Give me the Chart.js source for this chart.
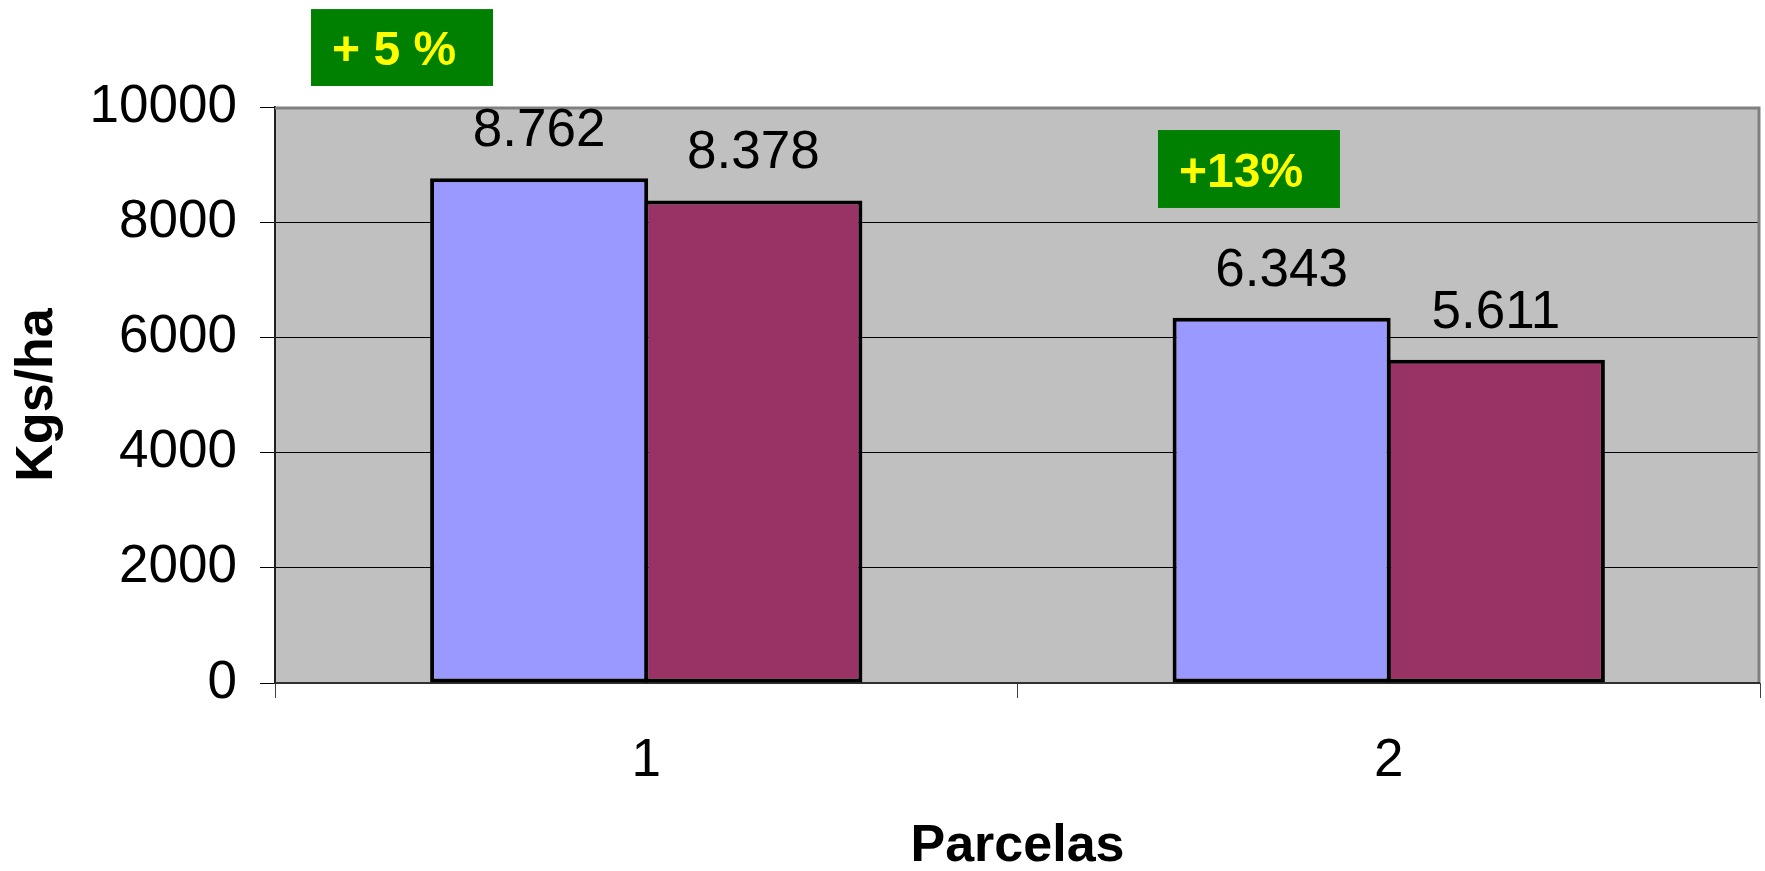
<!DOCTYPE html>
<html>
<head>
<meta charset="utf-8">
<script src="https://cdn.jsdelivr.net/npm/chart.js@4/dist/chart.umd.min.js"></script>
<style>
  html, body { margin: 0; padding: 0; background: #ffffff; }
  canvas { display: block; }
</style>
</head>
<body>
<canvas id="c" width="1765" height="871"></canvas>
<script>
// ---- data ----
const categories = ["1", "2"];
const seriesA = [8762, 6343];
const seriesB = [8378, 5611];
const yTicks = [0, 2000, 4000, 6000, 8000, 10000];
const xTitle = "Parcelas";
const yTitle = "Kgs/ha";
// annotation boxes (text, x-range in category index units, y-range in value units)
const noteTexts = ["+ 5 %", "+13%"];
const noteX0 = [-0.4515, 0.6892];
const noteX1 = [-0.2064, 0.9343];
const noteY0 = [11700, 9600];
const noteY1 = [10365, 8247];

const FONT = "'Liberation Sans', Arial, Helvetica, sans-serif";

const plotBg = {
  id: 'plotBg',
  beforeDraw(chart) {
    const {ctx, chartArea: a} = chart;
    ctx.save();
    ctx.fillStyle = '#C0C0C0';
    ctx.fillRect(a.left, a.top, a.right - a.left, a.bottom - a.top);
    ctx.restore();
  },
  beforeDatasetsDraw(chart) {
    const {ctx, chartArea: a} = chart;
    ctx.save();
    ctx.strokeStyle = '#808080';
    ctx.lineWidth = 3;
    ctx.beginPath();
    ctx.moveTo(a.left, a.top + 1);
    ctx.lineTo(a.right - 1, a.top + 1);
    ctx.lineTo(a.right - 1, a.bottom);
    ctx.stroke();
    ctx.strokeStyle = '#303030';
    ctx.lineWidth = 2;
    ctx.beginPath();
    ctx.moveTo(a.left, a.bottom);
    ctx.lineTo(a.right, a.bottom);
    ctx.stroke();
    ctx.restore();
  }
};

const valueLabels = {
  id: 'valueLabels',
  afterDatasetsDraw(chart) {
    const {ctx} = chart;
    ctx.save();
    ctx.font = "53px " + FONT;
    ctx.fillStyle = '#000000';
    ctx.textAlign = 'center';
    ctx.textBaseline = 'alphabetic';
    chart.data.datasets.forEach((ds, di) => {
      const meta = chart.getDatasetMeta(di);
      meta.data.forEach((bar, i) => {
        const v = ds.data[i];
        const txt = (v / 1000).toFixed(3);
        ctx.fillText(txt, bar.x, bar.y - 32);
      });
    });
    ctx.restore();
  }
};

const notes = {
  id: 'notes',
  afterDraw(chart) {
    const {ctx} = chart;
    const xs = chart.scales.x, ys = chart.scales.y;
    ctx.save();
    noteTexts.forEach((t, i) => {
      const x0 = xs.getPixelForValue(noteX0[i]);
      const x1 = xs.getPixelForValue(noteX1[i]);
      const y0 = ys.getPixelForValue(noteY0[i]);
      const y1 = ys.getPixelForValue(noteY1[i]);
      ctx.fillStyle = '#008000';
      ctx.fillRect(x0, y0, x1 - x0, y1 - y0);
      ctx.fillStyle = '#FFFF00';
      ctx.font = "bold 48px " + FONT;
      ctx.textAlign = 'left';
      ctx.textBaseline = 'alphabetic';
      ctx.fillText(t, x0 + 21, y1 - 21);
    });
    ctx.restore();
  }
};

new Chart(document.getElementById('c'), {
  type: 'bar',
  data: {
    labels: categories,
    datasets: [
      { data: seriesA, backgroundColor: '#9999FF', borderColor: '#000000', borderWidth: 4, borderSkipped: false },
      { data: seriesB, backgroundColor: '#993366', borderColor: '#000000', borderWidth: 4, borderSkipped: false }
    ]
  },
  options: {
    responsive: false,
    devicePixelRatio: 1,
    animation: false,
    layout: { padding: { left: 0, right: 5, top: 107, bottom: 0 } },
    datasets: { bar: { categoryPercentage: 0.577, barPercentage: 1.018 } },
    plugins: {
      legend: { display: false },
      tooltip: { enabled: false }
    },
    scales: {
      x: {
        afterFit(s) { s.height = 188; },
        grid: { drawOnChartArea: false, drawTicks: true, tickLength: 15, color: '#404040', lineWidth: 1, offset: true },
        border: { display: false },
        ticks: { color: '#000000', font: { family: FONT, size: 53 }, padding: 32, maxRotation: 0 },
        title: { display: true, text: xTitle, color: '#000000', font: { family: FONT, size: 52, weight: 'bold', lineHeight: 0.92 }, padding: { top: 0, bottom: 0 } }
      },
      y: {
        min: 0, max: 10000,
        afterFit(s) { s.width = 275; },
        afterBuildTicks(s) { s.ticks = yTicks.map(v => ({ value: v })); },
        grid: { color: '#000000', lineWidth: 1, tickLength: 15, drawTicks: true },
        border: { display: true, color: '#202020', width: 2 },
        ticks: { color: '#000000', font: { family: FONT, size: 53 }, padding: 23, callback: v => String(v) },
        title: { display: true, text: yTitle, color: '#000000', font: { family: FONT, size: 52, weight: 'bold', lineHeight: 1 }, padding: { top: 12, bottom: 0 } }
      }
    }
  },
  plugins: [plotBg, valueLabels, notes]
});
</script>
</body>
</html>
